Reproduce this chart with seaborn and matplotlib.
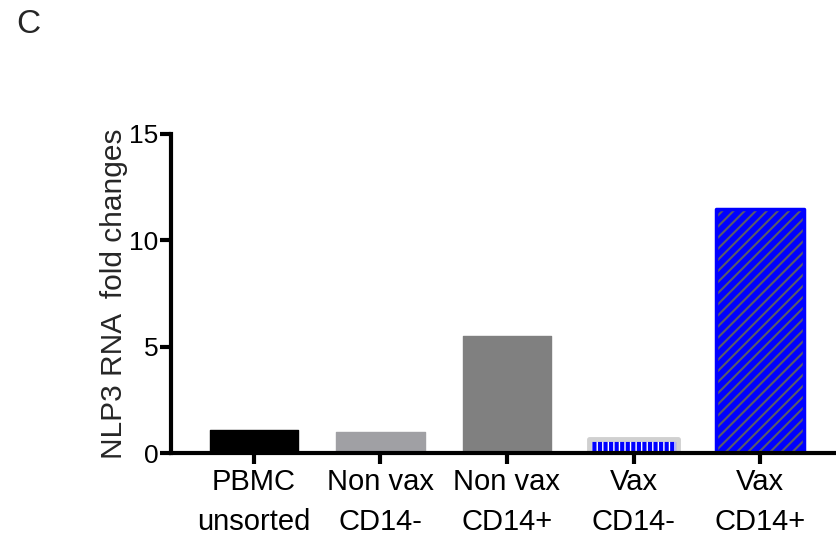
import matplotlib
matplotlib.use("Agg")
import matplotlib.pyplot as plt
import seaborn as sns
import pandas as pd
from matplotlib.patches import Rectangle

categories = ["PBMC\nunsorted", "Non vax\nCD14-", "Non vax\nCD14+", "Vax\nCD14-", "Vax\nCD14+"]
values = [1.1, 0.97, 5.52, 0.68, 11.45]
bar_colors = ["#000000", "#a0a0a4", "#808080", "#0000ff", "#0000ff"]
y_ticks = [0, 5, 10, 15]
y_label = "NLP3 RNA  fold changes"
panel_label = "C"

sns.set_theme(style="ticks")
plt.rcParams["font.family"] = ["Liberation Sans", "DejaVu Sans"]

df = pd.DataFrame({"group": categories, "value": values})

fig = plt.figure(figsize=(8.36, 5.37), dpi=100)
ax = fig.add_axes([0.2045, 0.1564, 0.7955, 0.5941])

sns.barplot(data=df, x="group", y="value", hue="group", palette=bar_colors,
            width=0.7, legend=False, ax=ax, saturation=1, linewidth=0)

patches = list(ax.patches)
# Vax CD14- : blue with white vertical stripes, light grey rounded edge
p = patches[3]
p.set_facecolor("#0000ff")
p.set_edgecolor("white")
p.set_hatch("|||")
p.set_linewidth(0)
ax.add_patch(Rectangle(p.get_xy(), p.get_width(), p.get_height(), fill=False,
                       edgecolor="#d0d0d0", linewidth=3.5, joinstyle="round", zorder=p.get_zorder() + 0.1))
# Vax CD14+ : blue with grey diagonal hatching and blue edge
q = patches[4]
q.set_facecolor("#0000ff")
q.set_edgecolor("#5a5a6a")
q.set_hatch("///")
q.set_linewidth(0)
if hasattr(q, "set_hatch_linewidth"):
    q.set_hatch_linewidth(1.5)
ax.add_patch(Rectangle(q.get_xy(), q.get_width(), q.get_height(), fill=False,
                       edgecolor="#0000ff", linewidth=2.5, joinstyle="round", zorder=q.get_zorder() + 0.1))
for r in patches[:3]:
    r.set_edgecolor(r.get_facecolor())
    r.set_linewidth(1)
    r.set_joinstyle("round")

ax.set_ylim(0, 15)
ax.set_xlim(-0.655, 4.6)
ax.set_yticks(y_ticks)
ax.set_yticklabels([str(t) for t in y_ticks], fontsize=19)
ax.set_xticks(range(len(categories)))
ax.set_xticklabels(categories, fontsize=21, linespacing=1.55)
ax.set_xlabel("")
ax.set_ylabel(y_label, fontsize=21.5)
ax.yaxis.set_label_coords(-0.065, 0.5)

sns.despine(ax=ax)
for s in ["left", "bottom"]:
    ax.spines[s].set_linewidth(3)
    ax.spines[s].set_color("black")
ax.tick_params(axis="y", length=8, width=3, pad=1, colors="black")
ax.tick_params(axis="x", length=8, width=3, pad=3, colors="black")

fig.text(16 / 836, 1 - 33 / 537, panel_label, fontsize=24, ha="left", va="baseline")

fig.savefig("out.png", dpi=100)
